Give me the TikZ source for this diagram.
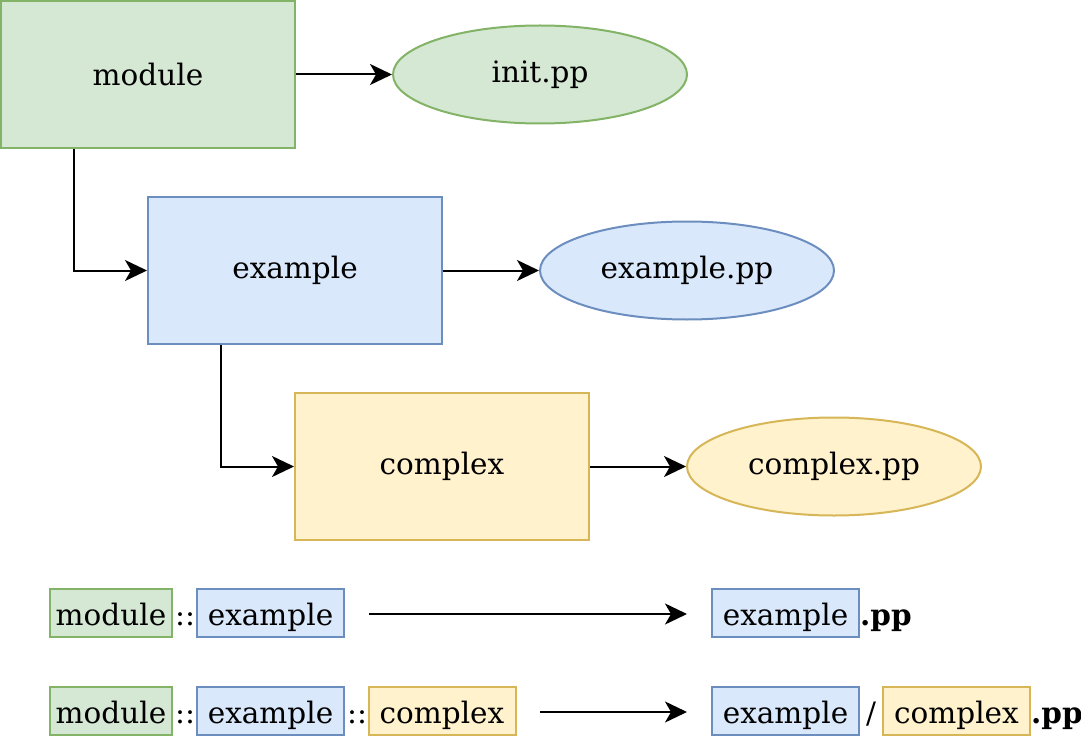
\documentclass[tikz,border=0pt]{standalone}
\usepackage{fontspec}
\setmainfont{DejaVu Serif}
\usetikzlibrary{shapes, arrows.meta}
\definecolor{greenfill}{HTML}{D5E8D4}
\definecolor{greenline}{HTML}{82B366}
\definecolor{bluefill}{HTML}{DAE8FC}
\definecolor{blueline}{HTML}{6C8EBF}
\definecolor{yellowfill}{HTML}{FFF2CC}
\definecolor{yellowline}{HTML}{D6B656}
\tikzstyle{folder} = [rectangle, minimum width=294pt, minimum height=147pt, text centered, line width=2pt, inner sep=0pt]
\tikzstyle{manifest} = [ellipse, minimum width=294pt, minimum height=98pt, text centered, line width=2pt, inner sep=0pt]
\tikzstyle{part} = [rectangle, minimum width=147pt, minimum height=48pt, text centered, line width=2pt, inner sep=0pt, text height=28pt, text depth=3pt]
\tikzstyle{green} = [draw=greenline, fill=greenfill]
\tikzstyle{blue} = [draw=blueline, fill=bluefill]
\tikzstyle{yellow} = [draw=yellowline, fill=yellowfill]
\tikzstyle{sep} = [inner sep=0pt, text height=28pt, text depth=3pt]
\tikzstyle{arrow} = [line width=2pt,->,>={Stealth[length=22pt,width=21pt,inset=6pt]}]
\begin{document}
\begin{tikzpicture}[node distance=196pt, auto, align=center, font=\fontsize{29.5}{34}\selectfont]
        \useasboundingbox (0,0) rectangle (1081pt,-738pt);
        % Nodes
        \node (module) [folder, green] at (148pt,-74.5pt) {module};
        \node (init) [manifest, green, right of=module, xshift=196pt] {init.pp};
        \node (example) [folder, blue, below of=module, xshift=147pt] {example};
        \node (examplepp) [manifest, blue, right of=example, xshift=196pt] {example.pp};
        \node (complex) [folder, yellow, below of=example, xshift=147pt] {complex};
        \node (complexpp) [manifest, yellow, right of=complex, xshift=196pt] {complex.pp};

        % Naming rows
        \node (modA) [part, green, minimum width=122pt] at (111pt,-613pt) {module};
        \node (sepA) [sep] at (185pt,-613pt) {::};
        \node (exA) [part, blue] at (270.5pt,-613pt) {example};
        \coordinate (fromA) at (369pt,-614pt);
        \coordinate (toA) at (687pt,-614pt);
        \node (exfileA) [part, blue] at (785.5pt,-613pt) {example};
        \node (ppA) [sep, anchor=west, font=\fontsize{29.5}{34}\selectfont\bfseries] at (exfileA.east) {.pp};

        \node (modB) [part, green, minimum width=122pt] at (111pt,-711pt) {module};
        \node (sepB) [sep] at (185pt,-711pt) {::};
        \node (exB) [part, blue] at (270.5pt,-711pt) {example};
        \node (sepC) [sep] at (357pt,-711pt) {::};
        \node (cxB) [part, yellow] at (442pt,-711pt) {complex};
        \coordinate (fromB) at (540pt,-712pt);
        \coordinate (toB) at (687pt,-712pt);
        \node (exfileB) [part, blue] at (785.5pt,-711pt) {example};
        \node (slash) [sep] at (871pt,-711pt) {/};
        \node (cxfileB) [part, yellow] at (956.5pt,-711pt) {complex};
        \node (ppB) [sep, anchor=west, font=\fontsize{29.5}{34}\selectfont\bfseries] at (cxfileB.east) {.pp};

        % Arrows
        \draw [arrow] (module) -- (init);
        \draw [arrow] (example) -- (examplepp);
        \draw [arrow] (complex) -- (complexpp);
        \draw [arrow] ([xshift=-74pt]module.south) |- (example);
        \draw [arrow] ([xshift=-74pt]example.south) |- (complex);
        \draw [arrow] (fromA) -- (toA);
        \draw [arrow] (fromB) -- (toB);

    \end{tikzpicture}
\end{document}
